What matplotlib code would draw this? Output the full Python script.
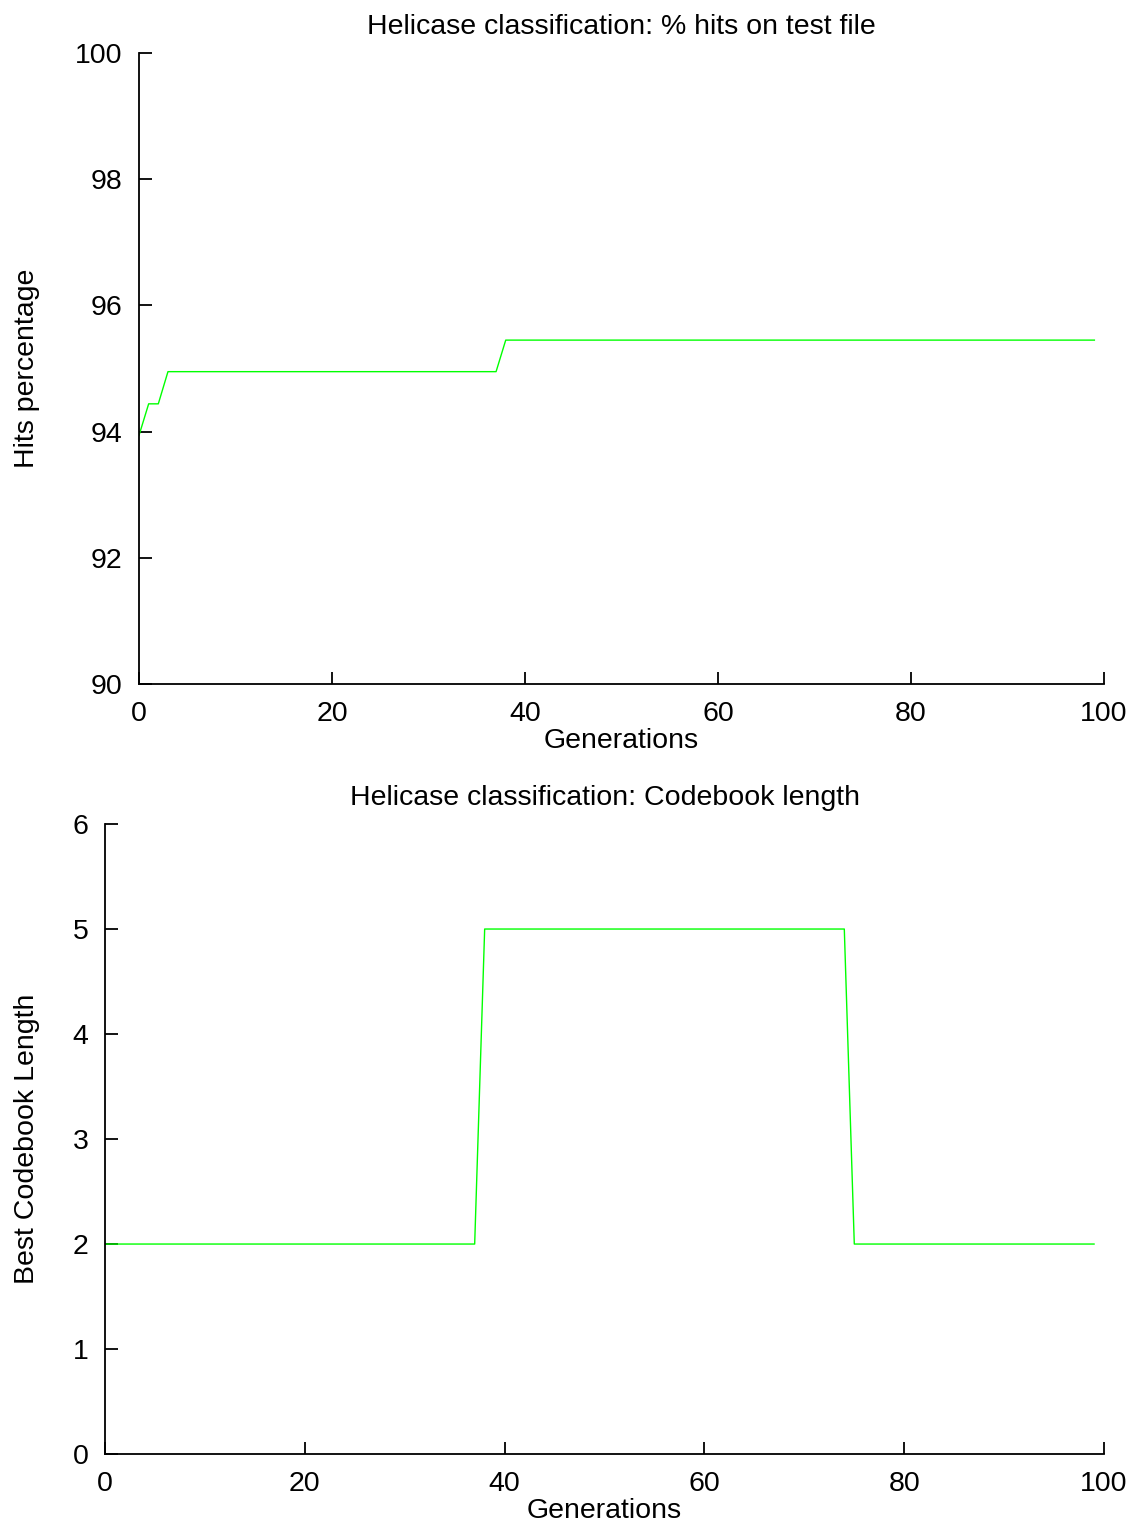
import matplotlib
matplotlib.use("Agg")
import matplotlib.pyplot as plt
import numpy as np

# best hits percentage on test file, one value per generation (0..99)
hits_steps = [(0, 93.94), (1, 94.44), (3, 94.95), (38, 95.45)]
# best codebook length per generation
length_steps = [(0, 2), (38, 5), (75, 2)]
n_gen = 100

def expand(steps, n):
    vals = []
    for g in range(n):
        v = steps[0][1]
        for start, val in steps:
            if g >= start:
                v = val
        vals.append(v)
    return np.array(vals)

gens = np.arange(n_gen)
hits = expand(hits_steps, n_gen)
lengths = expand(length_steps, n_gen)

plt.rcParams['font.family'] = ['Liberation Sans', 'DejaVu Sans']
fs = 20.5

fig = plt.figure(figsize=(11.32, 15.24), dpi=100)

def style(ax):
    ax.spines['top'].set_visible(False)
    ax.spines['right'].set_visible(False)
    ax.spines['left'].set_linewidth(1.3)
    ax.spines['bottom'].set_linewidth(1.3)
    ax.tick_params(direction='in', length=9, width=1.3, labelsize=fs)
    ax.tick_params(axis='y', pad=12)
    ax.tick_params(axis='x', pad=12)

# Top: hits percentage
ax1 = fig.add_axes([0.1228, 0.5512, 0.8525, 0.414])
ax1.plot(gens, hits, color='#00ff00', lw=1)
ax1.set_xlim(0, 100)
ax1.set_ylim(90, 100)
ax1.set_xticks(range(0, 101, 20))
ax1.set_yticks(range(90, 101, 2))
ax1.set_title("Helicase classification: % hits on test file", fontsize=fs, pad=14)
ax1.set_xlabel("Generations", fontsize=fs, labelpad=1)
ax1.set_ylabel("Hits percentage", fontsize=fs)
ax1.yaxis.set_label_coords(-0.1025, 0.5)
style(ax1)

# Bottom: codebook length
ax2 = fig.add_axes([0.0928, 0.0459, 0.8825, 0.4134])
ax2.plot(gens, lengths, color='#00ff00', lw=1)
ax2.set_xlim(0, 100)
ax2.set_ylim(0, 6)
ax2.set_xticks(range(0, 101, 20))
ax2.set_yticks(range(0, 7))
ax2.set_title("Helicase classification: Codebook length", fontsize=fs, pad=14)
ax2.set_xlabel("Generations", fontsize=fs, labelpad=1)
ax2.set_ylabel("Best Codebook Length", fontsize=fs)
ax2.yaxis.set_label_coords(-0.065, 0.5)
style(ax2)

plt.savefig("out.png", dpi=100)
